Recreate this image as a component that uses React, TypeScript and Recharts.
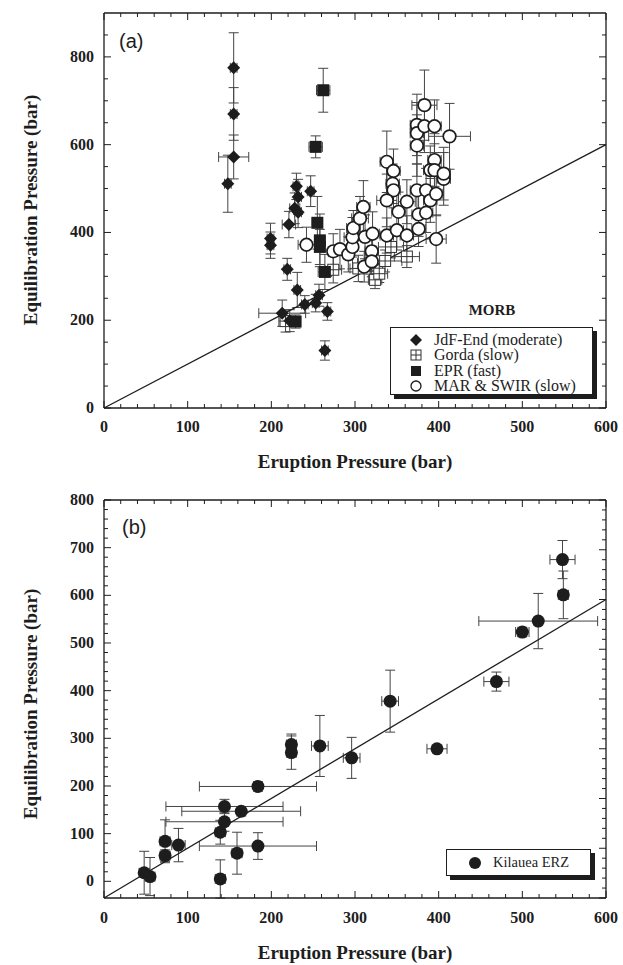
import React from 'react';
import { ScatterChart, Scatter, XAxis, YAxis, ErrorBar } from 'recharts';

const SERIF = '"Liberation Serif", "Times New Roman", Tinos, "Nimbus Roman", "Noto Serif", "DejaVu Serif", serif';
const SANS = '"Liberation Sans", Arial, sans-serif';
const INK = '#1d1d1d';

// ---- panel (a): MORB  (x = eruption P, y = equilibration P, ex / ey = errors, bar)
const jdfEnd = [
  { x: 155, y: 775, ex: 4, ey: 80 },
  { x: 155, y: 670, ex: 4, ey: 60 },
  { x: 155, y: 572, ex: 18, ey: 50 },
  { x: 148, y: 511, ex: 4, ey: 65 },
  { x: 199, y: 386, ex: 4, ey: 35 },
  { x: 199, y: 371, ex: 4, ey: 30 },
  { x: 221, y: 418, ex: 8, ey: 30 },
  { x: 230, y: 505, ex: 4, ey: 30 },
  { x: 232, y: 481, ex: 4, ey: 40 },
  { x: 228, y: 455, ex: 6, ey: 35 },
  { x: 232, y: 446, ex: 4, ey: 35 },
  { x: 247, y: 494, ex: 4, ey: 35 },
  { x: 219, y: 316, ex: 4, ey: 25 },
  { x: 231, y: 269, ex: 4, ey: 40 },
  { x: 240, y: 236, ex: 4, ey: 20 },
  { x: 253, y: 239, ex: 4, ey: 20 },
  { x: 257, y: 257, ex: 4, ey: 25 },
  { x: 267, y: 220, ex: 4, ey: 20 },
  { x: 264, y: 131, ex: 4, ey: 22 },
  { x: 213, y: 216, ex: 28, ey: 30 },
  { x: 222, y: 199, ex: 4, ey: 25 },
];

const gorda = [
  { x: 217, y: 198, ex: 8, ey: 25 },
  { x: 274, y: 315, ex: 10, ey: 30 },
  { x: 304, y: 318, ex: 10, ey: 30 },
  { x: 318, y: 330, ex: 15, ey: 25 },
  { x: 324, y: 292, ex: 8, ey: 20 },
  { x: 329, y: 306, ex: 10, ey: 20 },
  { x: 336, y: 335, ex: 20, ey: 25 },
  { x: 343, y: 367, ex: 15, ey: 25 },
  { x: 362, y: 345, ex: 15, ey: 25 },
];

const epr = [
  { x: 262, y: 724, ex: 8, ey: 50 },
  { x: 253, y: 595, ex: 8, ey: 25 },
  { x: 255, y: 422, ex: 6, ey: 60 },
  { x: 258, y: 382, ex: 6, ey: 60 },
  { x: 258, y: 367, ex: 6, ey: 40 },
  { x: 264, y: 310, ex: 8, ey: 40 },
  { x: 229, y: 197, ex: 4, ey: 15 },
];

const marSwir = [
  { x: 242, y: 372, ex: 10, ey: 40 },
  { x: 274, y: 357, ex: 6, ey: 40 },
  { x: 282, y: 362, ex: 6, ey: 45 },
  { x: 292, y: 350, ex: 6, ey: 40 },
  { x: 297, y: 367, ex: 6, ey: 50 },
  { x: 297, y: 389, ex: 10, ey: 45 },
  { x: 298, y: 410, ex: 8, ey: 40 },
  { x: 306, y: 432, ex: 10, ey: 50 },
  { x: 310, y: 458, ex: 8, ey: 60 },
  { x: 312, y: 390, ex: 8, ey: 50 },
  { x: 321, y: 397, ex: 8, ey: 50 },
  { x: 311, y: 322, ex: 8, ey: 35 },
  { x: 320, y: 357, ex: 8, ey: 45 },
  { x: 320, y: 334, ex: 6, ey: 35 },
  { x: 338, y: 561, ex: 8, ey: 70 },
  { x: 346, y: 540, ex: 8, ey: 50 },
  { x: 345, y: 511, ex: 8, ey: 45 },
  { x: 346, y: 496, ex: 8, ey: 40 },
  { x: 338, y: 473, ex: 12, ey: 60 },
  { x: 338, y: 393, ex: 8, ey: 40 },
  { x: 350, y: 405, ex: 8, ey: 45 },
  { x: 352, y: 447, ex: 8, ey: 45 },
  { x: 362, y: 470, ex: 10, ey: 50 },
  { x: 362, y: 393, ex: 8, ey: 45 },
  { x: 374, y: 645, ex: 8, ey: 70 },
  { x: 374, y: 626, ex: 8, ey: 70 },
  { x: 374, y: 598, ex: 8, ey: 70 },
  { x: 383, y: 690, ex: 15, ey: 80 },
  { x: 383, y: 642, ex: 8, ey: 60 },
  { x: 395, y: 642, ex: 8, ey: 60 },
  { x: 374, y: 496, ex: 8, ey: 60 },
  { x: 376, y: 441, ex: 8, ey: 50 },
  { x: 376, y: 408, ex: 8, ey: 40 },
  { x: 385, y: 496, ex: 8, ey: 50 },
  { x: 390, y: 473, ex: 8, ey: 50 },
  { x: 395, y: 565, ex: 8, ey: 60 },
  { x: 390, y: 542, ex: 8, ey: 55 },
  { x: 395, y: 542, ex: 8, ey: 60 },
  { x: 397, y: 488, ex: 8, ey: 50 },
  { x: 406, y: 522, ex: 8, ey: 60 },
  { x: 406, y: 534, ex: 8, ey: 60 },
  { x: 413, y: 619, ex: 25, ey: 75 },
  { x: 397, y: 385, ex: 12, ey: 55 },
  { x: 385, y: 445, ex: 8, ey: 45 },
];

// ---- panel (b): Kilauea ERZ
const kilauea = [
  { x: 548, y: 675, ex: 15, ey: 40 },
  { x: 549, y: 601, ex: 6, ey: 50 },
  { x: 519, y: 546, ex: 71, ey: 58 },
  { x: 500, y: 523, ex: 8, ey: 10 },
  { x: 469, y: 419, ex: 15, ey: 20 },
  { x: 398, y: 278, ex: 12, ey: 6 },
  { x: 342, y: 378, ex: 10, ey: 65 },
  { x: 296, y: 259, ex: 10, ey: 43 },
  { x: 258, y: 284, ex: 10, ey: 64 },
  { x: 224, y: 287, ex: 6, ey: 22 },
  { x: 224, y: 270, ex: 6, ey: 35 },
  { x: 184, y: 199, ex: 70, ey: 10 },
  { x: 144, y: 157, ex: 70, ey: 15 },
  { x: 164, y: 147, ex: 71, ey: 10 },
  { x: 144, y: 125, ex: 70, ey: 20 },
  { x: 139, y: 103, ex: 6, ey: 25 },
  { x: 184, y: 74, ex: 70, ey: 28 },
  { x: 159, y: 59, ex: 6, ey: 44 },
  { x: 73, y: 84, ex: 6, ey: 45 },
  { x: 73, y: 54, ex: 6, ey: 12 },
  { x: 89, y: 76, ex: 8, ey: 35 },
  { x: 48, y: 18, ex: 6, ey: 45 },
  { x: 55, y: 10, ex: 6, ey: 40 },
  { x: 139, y: 5, ex: 6, ey: 40 },
];

// 1:1 line
const oneToOne = [{ x: 0, y: 0 }, { x: 600, y: 600 }];

const xMajor = [0, 100, 200, 300, 400, 500, 600];
const yMajorA = [0, 200, 400, 600, 800];
const yMajorB = [0, 100, 200, 300, 400, 500, 600, 700, 800];

const steps = (from: number, to: number, step: number) => {
  const out: number[] = [];
  for (let v = from; v <= to; v += step) out.push(v);
  return out;
};
const xTicks = steps(0, 600, 20);
const yTicksA = steps(0, 850, 50);
const yTicksB = steps(0, 800, 20);

const tickText = { fontFamily: SERIF, fontWeight: 700, fontSize: 16, fill: INK };
const titleText = { fontFamily: SERIF, fontWeight: 700, fontSize: 19, fill: INK };

function makeTick(side: string, labels: number[], gap: number) {
  return (props: any) => {
    const { x, y, payload } = props;
    const v = payload.value;
    const major = labels.includes(v);
    const len = major ? 7 : 4;
    let line = null;
    let text = null;
    if (side === 'bottom') {
      line = <line x1={x} y1={y} x2={x} y2={y - len} stroke={INK} />;
      if (major) text = <text x={x} y={y + gap} textAnchor="middle" style={tickText}>{v}</text>;
    } else if (side === 'top') {
      line = <line x1={x} y1={y} x2={x} y2={y + len} stroke={INK} />;
    } else if (side === 'left') {
      line = <line x1={x} y1={y} x2={x + len} y2={y} stroke={INK} />;
      if (major) text = <text x={x - gap} y={y + 5} textAnchor="end" style={tickText}>{v}</text>;
    } else {
      line = <line x1={x} y1={y} x2={x - len} y2={y} stroke={INK} />;
    }
    return <g>{line}{text}</g>;
  };
}

function yTitle(cy: number) {
  return () => (
    <text x={30} y={cy} transform={`rotate(-90 30 ${cy})`} textAnchor="middle" dominantBaseline="central" style={titleText}>
      Equilibration Pressure (bar)
    </text>
  );
}

const Diamond = (p: any) => {
  const { cx, cy } = p;
  const r = 6.5;
  return <path d={`M${cx},${cy - r}L${cx + r},${cy}L${cx},${cy + r}L${cx - r},${cy}Z`} fill={INK} />;
};
const FilledSquare = (p: any) => <rect x={p.cx - 6} y={p.cy - 6} width={12} height={12} fill={INK} />;
const CrossSquare = (p: any) => (
  <g stroke="#333" strokeWidth={1} fill="#fff">
    <rect x={p.cx - 5.5} y={p.cy - 5.5} width={11} height={11} />
    <line x1={p.cx - 5.5} y1={p.cy} x2={p.cx + 5.5} y2={p.cy} />
    <line x1={p.cx} y1={p.cy - 5.5} x2={p.cx} y2={p.cy + 5.5} />
  </g>
);
const OpenCircle = (p: any) => <circle cx={p.cx} cy={p.cy} r={6.3} fill="#fff" stroke={INK} strokeWidth={1.7} />;
const Dot = (p: any) => <circle cx={p.cx} cy={p.cy} r={6.5} fill={INK} />;
const NoMark = () => <g />;

const axisLine = { stroke: INK, strokeWidth: 1.3 };

function Bars() {
  return [
    <ErrorBar key="ey" dataKey="ey" direction="y" width={5} stroke="#444" strokeWidth={1} />,
    <ErrorBar key="ex" dataKey="ex" direction="x" width={5} stroke="#444" strokeWidth={1} />,
  ];
}

function Frame(props: { yMax: number; yTicks: number[]; yMajor: number[]; gapX: number; xHeight: number; titleOffset: number; titleCy: number }) {
  return [
    <XAxis key="xb" type="number" dataKey="x" domain={[0, 600]} ticks={xTicks} interval={0} tickSize={0} tickMargin={0}
      tickLine={false} axisLine={axisLine} tick={makeTick('bottom', xMajor, props.gapX)} height={props.xHeight}
      label={{ value: 'Eruption Pressure (bar)', position: 'insideBottom', offset: props.titleOffset, style: titleText }} />,
    <XAxis key="xt" xAxisId="top" orientation="top" type="number" dataKey="x" domain={[0, 600]} ticks={xTicks} interval={0}
      tickSize={0} tickMargin={0} tickLine={false} axisLine={axisLine} tick={makeTick('top', xMajor, 0)} height={1} />,
    <YAxis key="yl" type="number" dataKey="y" domain={[0, props.yMax]} ticks={props.yTicks} interval={0} tickSize={0}
      tickMargin={0} tickLine={false} axisLine={axisLine} tick={makeTick('left', props.yMajor, 10)} width={104}
      label={yTitle(props.titleCy)} />,
    <YAxis key="yr" yAxisId="right" orientation="right" type="number" dataKey="y" domain={[0, props.yMax]} ticks={props.yTicks}
      interval={0} tickSize={0} tickMargin={0} tickLine={false} axisLine={axisLine} tick={makeTick('right', props.yMajor, 0)} width={1} />,
    <Scatter key="diag" name="1:1" xAxisId="top" yAxisId="right" data={oneToOne} shape={NoMark}
      line={{ stroke: INK, strokeWidth: 1.3 }} isAnimationActive={false} legendType="none" />,
  ];
}

const legendBox: React.CSSProperties = {
  position: 'absolute',
  background: '#fff',
  border: `1.5px solid ${INK}`,
  boxShadow: `4px 4px 0 ${INK}`,
  fontFamily: SERIF,
  color: INK,
  boxSizing: 'border-box',
};

const legendA = [
  { name: 'JdF-End (moderate)', icon: <path d="M7,1L13,7L7,13L1,7Z" fill={INK} /> },
  { name: 'Gorda (slow)', icon: <g stroke="#333" fill="#fff"><rect x={2} y={2} width={10} height={10} /><line x1={2} y1={7} x2={12} y2={7} /><line x1={7} y1={2} x2={7} y2={12} /></g> },
  { name: 'EPR (fast)', icon: <rect x={2} y={2} width={10} height={10} fill={INK} /> },
  { name: 'MAR & SWIR (slow)', icon: <circle cx={7} cy={7} r={5} fill="#fff" stroke={INK} strokeWidth={1.3} /> },
];

export default function App() {
  return (
    <div style={{ position: 'absolute', left: 0, top: 0, width: 623, height: 965, background: '#fff', overflow: 'hidden' }}>
      <div style={{ position: 'absolute', left: 0, top: 0 }}>
        <ScatterChart width={623} height={480} margin={{ top: 12, right: 16, bottom: 0, left: 0 }}>
          {Frame({ yMax: 900, yTicks: yTicksA, yMajor: yMajorA, gapX: 24, xHeight: 72, titleOffset: 12, titleCy: 210 })}
          <Scatter name="Gorda (slow)" data={gorda} shape={CrossSquare} isAnimationActive={false}>{Bars()}</Scatter>
          <Scatter name="MAR & SWIR (slow)" data={marSwir} shape={OpenCircle} isAnimationActive={false}>{Bars()}</Scatter>
          <Scatter name="JdF-End (moderate)" data={jdfEnd} shape={Diamond} isAnimationActive={false}>{Bars()}</Scatter>
          <Scatter name="EPR (fast)" data={epr} shape={FilledSquare} isAnimationActive={false}>{Bars()}</Scatter>
        </ScatterChart>
      </div>
      <div style={{ position: 'absolute', left: 0, top: 470 }}>
        <ScatterChart width={623} height={495} margin={{ top: 29, right: 16, bottom: 0, left: 0 }}>
          {Frame({ yMax: 800, yTicks: yTicksB, yMajor: yMajorB, gapX: 25, xHeight: 67, titleOffset: 6, titleCy: 234 })}
          <Scatter name="Kilauea ERZ" data={kilauea} shape={Dot} isAnimationActive={false}>{Bars()}</Scatter>
        </ScatterChart>
      </div>

      <div style={{ position: 'absolute', left: 119, top: 30, fontFamily: SANS, fontSize: 20, color: INK }}>(a)</div>
      <div style={{ position: 'absolute', left: 122, top: 516, fontFamily: SANS, fontSize: 20, color: INK }}>(b)</div>

      <div style={{ position: 'absolute', left: 392, width: 200, top: 302, textAlign: 'center', fontFamily: SERIF, fontWeight: 700, fontSize: 15, color: INK }}>MORB</div>
      <div style={{ ...legendBox, left: 390, top: 327, width: 203, height: 68, padding: '4px 0 0 18px' }}>
        {legendA.map((it) => (
          <div key={it.name} style={{ display: 'flex', alignItems: 'center', height: 15.5, fontSize: 16 }}>
            <svg width={14} height={14} style={{ marginRight: 11 }}>{it.icon}</svg>
            <span>{it.name}</span>
          </div>
        ))}
      </div>
      <div style={{ ...legendBox, left: 446, top: 849, width: 145, height: 27, display: 'flex', alignItems: 'center', paddingLeft: 21, fontSize: 14.5 }}>
        <svg width={14} height={14} style={{ marginRight: 11 }}><circle cx={7} cy={7} r={6} fill={INK} /></svg>
        <span>Kilauea ERZ</span>
      </div>
    </div>
  );
}
